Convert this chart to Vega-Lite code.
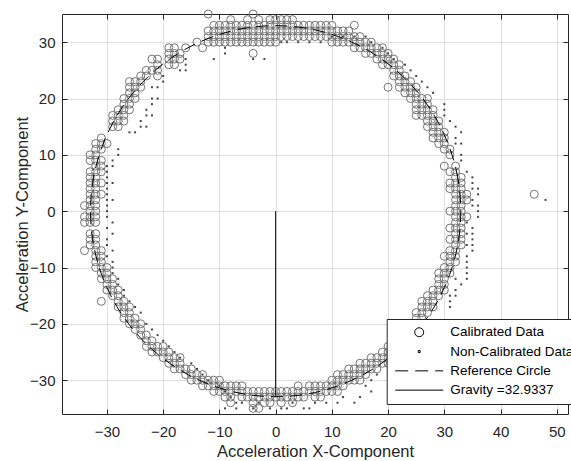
{
  "$schema": "https://vega.github.io/schema/vega-lite/v6.json",
  "width": 506,
  "height": 400,
  "autosize": {"type": "none"},
  "padding": {"left": 62, "top": 14, "right": 3, "bottom": 47},
  "background": "white",
  "config": {
    "font": "Liberation Sans",
    "view": {"stroke": null},
    "axis": {
      "labelFont": "Liberation Sans",
      "titleFont": "Liberation Sans",
      "labelFontSize": 15,
      "titleFontSize": 16.5,
      "titleFontWeight": "normal",
      "labelColor": "#262626",
      "titleColor": "#262626",
      "tickColor": "#262626",
      "gridColor": "#dfdfdf",
      "gridOpacity": 1,
      "domain": true,
      "domainColor": "#262626",
      "domainWidth": 1
    }
  },
  "datasets": {
    "calibrated": [
      {"x":21,"y":24},{"x":22,"y":24},{"x":23,"y":24},
      {"x":22,"y":23},{"x":23,"y":23},{"x":24,"y":23},
      {"x":22,"y":22},{"x":23,"y":22},{"x":24,"y":22},{"x":25,"y":22},{"x":20,"y":22},
      {"x":23,"y":21},{"x":24,"y":21},{"x":25,"y":21},
      {"x":24,"y":20},{"x":25,"y":20},{"x":26,"y":20},{"x":27,"y":20},
      {"x":25,"y":19},{"x":26,"y":19},{"x":27,"y":19},
      {"x":25,"y":18},{"x":26,"y":18},{"x":27,"y":18},{"x":28,"y":18},
      {"x":25,"y":17},{"x":26,"y":17},{"x":27,"y":17},{"x":28,"y":17},
      {"x":27,"y":16},{"x":28,"y":16},{"x":29,"y":16},
      {"x":27,"y":15},{"x":28,"y":15},{"x":29,"y":15},
      {"x":28,"y":14},{"x":29,"y":14},{"x":30,"y":14},
      {"x":28,"y":13},{"x":29,"y":13},{"x":30,"y":13},
      {"x":29,"y":12},{"x":30,"y":12},
      {"x":30,"y":11},{"x":31,"y":11},
      {"x":31,"y":10},
      {"x":30,"y":8},{"x":32,"y":8},
      {"x":31,"y":7},{"x":32,"y":7},
      {"x":32,"y":6},{"x":33,"y":6},
      {"x":31,"y":5},{"x":32,"y":5},{"x":33,"y":5},
      {"x":31,"y":4},{"x":32,"y":4},{"x":33,"y":4},
      {"x":32,"y":3},{"x":33,"y":3},{"x":34,"y":3},{"x":46,"y":3},
      {"x":32,"y":2},{"x":33,"y":2},{"x":34,"y":2},
      {"x":32,"y":1},{"x":33,"y":1},
      {"x":31,"y":0},{"x":32,"y":0},{"x":33,"y":0},
      {"x":32,"y":-1},{"x":33,"y":-1},{"x":34,"y":-1},
      {"x":32,"y":-2},{"x":33,"y":-2},
      {"x":31,"y":-3},{"x":32,"y":-3},{"x":33,"y":-3},
      {"x":32,"y":-4},{"x":33,"y":-4},
      {"x":31,"y":-5},{"x":32,"y":-5},{"x":33,"y":-5},
      {"x":32,"y":-6},{"x":33,"y":-6},
      {"x":31,"y":-7},{"x":32,"y":-7},
      {"x":30,"y":-8},{"x":31,"y":-8},{"x":32,"y":-8},
      {"x":31,"y":-9},{"x":32,"y":-9},
      {"x":30,"y":-10},{"x":31,"y":-10},
      {"x":29,"y":-11},{"x":30,"y":-11},{"x":31,"y":-11},
      {"x":29,"y":-12},{"x":30,"y":-12},
      {"x":29,"y":-13},{"x":30,"y":-13},
      {"x":28,"y":-14},{"x":29,"y":-14},{"x":30,"y":-14},
      {"x":27,"y":-15},{"x":28,"y":-15},{"x":29,"y":-15},
      {"x":26,"y":-16},{"x":27,"y":-16},{"x":28,"y":-16},
      {"x":26,"y":-17},{"x":27,"y":-17},{"x":28,"y":-17},
      {"x":25,"y":-18},{"x":26,"y":-18},{"x":27,"y":-18},
      {"x":25,"y":-19},{"x":26,"y":-19},
      {"x":24,"y":-20},{"x":25,"y":-20},{"x":26,"y":-20},
      {"x":21,"y":25},{"x":21,"y":26},{"x":21,"y":27},
      {"x":22,"y":25},{"x":22,"y":26},
      {"x":20,"y":26},{"x":20,"y":27},{"x":20,"y":28},
      {"x":19,"y":26},{"x":19,"y":27},{"x":19,"y":28},{"x":19,"y":29},
      {"x":18,"y":27},{"x":18,"y":28},{"x":18,"y":29},
      {"x":17,"y":28},{"x":17,"y":29},{"x":17,"y":30},
      {"x":16,"y":28},{"x":16,"y":29},{"x":16,"y":30},
      {"x":15,"y":29},{"x":15,"y":30},{"x":15,"y":31},
      {"x":14,"y":29},{"x":14,"y":30},{"x":14,"y":31},{"x":14,"y":33},
      {"x":13,"y":30},{"x":13,"y":31},{"x":13,"y":32},
      {"x":12,"y":30},{"x":12,"y":31},{"x":12,"y":32},
      {"x":11,"y":30},{"x":11,"y":31},{"x":11,"y":32},
      {"x":10,"y":30},{"x":10,"y":31},{"x":10,"y":32},{"x":10,"y":33},
      {"x":9,"y":31},{"x":9,"y":32},{"x":9,"y":33},
      {"x":8,"y":31},{"x":8,"y":32},{"x":8,"y":33},
      {"x":7,"y":31},{"x":7,"y":32},{"x":7,"y":33},
      {"x":6,"y":31},{"x":6,"y":32},{"x":6,"y":33},
      {"x":5,"y":31},{"x":5,"y":32},{"x":5,"y":33},
      {"x":4,"y":31},{"x":4,"y":32},{"x":4,"y":33},
      {"x":3,"y":31},{"x":3,"y":32},{"x":3,"y":33},{"x":3,"y":34},
      {"x":2,"y":31},{"x":2,"y":32},{"x":2,"y":33},{"x":2,"y":34},
      {"x":1,"y":31},{"x":1,"y":32},{"x":1,"y":33},{"x":1,"y":34},
      {"x":0,"y":30},{"x":0,"y":31},{"x":0,"y":32},{"x":0,"y":33},{"x":0,"y":34},
      {"x":-1,"y":30},{"x":-1,"y":31},{"x":-1,"y":32},{"x":-1,"y":33},{"x":-1,"y":34},
      {"x":-2,"y":30},{"x":-2,"y":31},{"x":-2,"y":32},{"x":-2,"y":33},
      {"x":-3,"y":30},{"x":-3,"y":31},{"x":-3,"y":32},{"x":-3,"y":33},{"x":-3,"y":34},
      {"x":-4,"y":28},{"x":-4,"y":30},{"x":-4,"y":31},{"x":-4,"y":32},{"x":-4,"y":33},{"x":-4,"y":35},
      {"x":-5,"y":30},{"x":-5,"y":31},{"x":-5,"y":32},{"x":-5,"y":33},{"x":-5,"y":34},
      {"x":-6,"y":30},{"x":-6,"y":31},{"x":-6,"y":32},{"x":-6,"y":33},
      {"x":-7,"y":30},{"x":-7,"y":31},{"x":-7,"y":32},{"x":-7,"y":33},
      {"x":-8,"y":30},{"x":-8,"y":31},{"x":-8,"y":32},{"x":-8,"y":33},{"x":-8,"y":34},
      {"x":-9,"y":30},{"x":-9,"y":31},{"x":-9,"y":32},{"x":-9,"y":33},
      {"x":-10,"y":30},{"x":-10,"y":31},{"x":-10,"y":32},{"x":-10,"y":33},
      {"x":-11,"y":30},{"x":-11,"y":31},{"x":-11,"y":32},{"x":-11,"y":33},
      {"x":-12,"y":30},{"x":-12,"y":31},{"x":-12,"y":32},{"x":-12,"y":35},
      {"x":-13,"y":29},{"x":-14,"y":30},{"x":-16,"y":29},
      {"x":-17,"y":27},{"x":-17,"y":28},
      {"x":-18,"y":26},{"x":-18,"y":27},{"x":-18,"y":28},{"x":-18,"y":29},
      {"x":-19,"y":26},{"x":-19,"y":27},{"x":-19,"y":28},{"x":-19,"y":29},
      {"x":-21,"y":24},{"x":-21,"y":25},{"x":-21,"y":26},{"x":-21,"y":27},
      {"x":-22,"y":25},{"x":-22,"y":27},
      {"x":-23,"y":24},{"x":-23,"y":25},
      {"x":-24,"y":22},{"x":-24,"y":23},{"x":-24,"y":24},
      {"x":-25,"y":20},{"x":-25,"y":21},{"x":-25,"y":22},{"x":-25,"y":23},
      {"x":-26,"y":18},{"x":-26,"y":19},{"x":-26,"y":20},{"x":-26,"y":21},{"x":-26,"y":22},{"x":-26,"y":23},
      {"x":-27,"y":16},{"x":-27,"y":17},{"x":-27,"y":18},{"x":-27,"y":19},{"x":-27,"y":20},
      {"x":-28,"y":15},{"x":-28,"y":16},{"x":-28,"y":17},{"x":-28,"y":18},
      {"x":-29,"y":15},{"x":-29,"y":16},{"x":-29,"y":17},
      {"x":-31,"y":13},
      {"x":-32,"y":12},{"x":-31,"y":12},{"x":-30,"y":12},
      {"x":-32,"y":11},{"x":-31,"y":11},
      {"x":-33,"y":10},{"x":-32,"y":10},
      {"x":-33,"y":9},{"x":-32,"y":9},{"x":-31,"y":9},
      {"x":-32,"y":8},{"x":-31,"y":8},
      {"x":-33,"y":7},{"x":-32,"y":7},{"x":-31,"y":7},
      {"x":-33,"y":6},{"x":-32,"y":6},
      {"x":-33,"y":5},{"x":-32,"y":5},{"x":-31,"y":5},
      {"x":-33,"y":4},{"x":-32,"y":4},
      {"x":-33,"y":3},{"x":-32,"y":3},{"x":-31,"y":3},
      {"x":-33,"y":2},{"x":-32,"y":2},
      {"x":-34,"y":1},{"x":-33,"y":1},{"x":-32,"y":1},
      {"x":-33,"y":0},{"x":-32,"y":0},
      {"x":-34,"y":-1},{"x":-33,"y":-1},{"x":-32,"y":-1},
      {"x":-34,"y":-2},{"x":-33,"y":-2},{"x":-32,"y":-2},
      {"x":-33,"y":-4},{"x":-32,"y":-4},
      {"x":-33,"y":-5},{"x":-32,"y":-5},
      {"x":-33,"y":-6},{"x":-32,"y":-6},
      {"x":-34,"y":-7},{"x":-32,"y":-7},{"x":-31,"y":-7},
      {"x":-32,"y":-8},{"x":-31,"y":-8},
      {"x":-32,"y":-9},{"x":-31,"y":-9},
      {"x":-32,"y":-10},{"x":-31,"y":-10},{"x":-30,"y":-10},
      {"x":-31,"y":-11},{"x":-30,"y":-11},
      {"x":-31,"y":-12},{"x":-30,"y":-12},{"x":-29,"y":-12},
      {"x":-30,"y":-13},{"x":-29,"y":-13},
      {"x":-30,"y":-14},{"x":-29,"y":-14},{"x":-28,"y":-14},
      {"x":-29,"y":-15},{"x":-28,"y":-15},
      {"x":-31,"y":-16},{"x":-28,"y":-16},{"x":-27,"y":-16},
      {"x":-28,"y":-17},{"x":-27,"y":-17},{"x":-26,"y":-17},
      {"x":-27,"y":-18},{"x":-26,"y":-18},
      {"x":-27,"y":-19},{"x":-26,"y":-19},{"x":-25,"y":-19},
      {"x":-26,"y":-20},{"x":-25,"y":-20},{"x":-24,"y":-20},
      {"x":-25,"y":-21},{"x":-24,"y":-21},
      {"x":-24,"y":-22},{"x":-23,"y":-22},
      {"x":-23,"y":-23},{"x":-23,"y":-24},
      {"x":-22,"y":-23},{"x":-22,"y":-24},{"x":-22,"y":-25},
      {"x":-21,"y":-24},{"x":-21,"y":-25},
      {"x":-20,"y":-24},{"x":-20,"y":-25},{"x":-20,"y":-26},
      {"x":-19,"y":-25},{"x":-19,"y":-26},{"x":-19,"y":-27},
      {"x":-18,"y":-26},{"x":-18,"y":-27},{"x":-18,"y":-28},
      {"x":-17,"y":-26},{"x":-17,"y":-27},{"x":-17,"y":-28},
      {"x":-16,"y":-28},{"x":-16,"y":-29},
      {"x":-15,"y":-28},{"x":-15,"y":-29},{"x":-15,"y":-30},
      {"x":-14,"y":-29},{"x":-14,"y":-30},
      {"x":-13,"y":-29},{"x":-13,"y":-30},{"x":-13,"y":-31},
      {"x":-12,"y":-30},{"x":-12,"y":-31},
      {"x":-11,"y":-30},{"x":-11,"y":-31},{"x":-11,"y":-32},
      {"x":-10,"y":-30},{"x":-10,"y":-31},{"x":-10,"y":-32},
      {"x":-9,"y":-31},{"x":-9,"y":-32},{"x":-9,"y":-33},
      {"x":-8,"y":-31},{"x":-8,"y":-32},{"x":-8,"y":-33},{"x":-8,"y":-34},
      {"x":-7,"y":-31},{"x":-7,"y":-32},
      {"x":-6,"y":-31},{"x":-6,"y":-32},{"x":-6,"y":-33},
      {"x":-5,"y":-32},{"x":-5,"y":-33},
      {"x":-4,"y":-32},{"x":-4,"y":-33},{"x":-4,"y":-34},{"x":-4,"y":-35},
      {"x":-3,"y":-32},{"x":-3,"y":-33},{"x":-3,"y":-35},
      {"x":-2,"y":-32},{"x":-2,"y":-33},{"x":-2,"y":-34},
      {"x":-1,"y":-32},{"x":-1,"y":-33},{"x":-1,"y":-34},
      {"x":0,"y":-32},{"x":0,"y":-33},
      {"x":1,"y":-32},{"x":1,"y":-33},{"x":1,"y":-34},
      {"x":2,"y":-32},{"x":2,"y":-33},
      {"x":3,"y":-32},{"x":3,"y":-33},{"x":3,"y":-34},
      {"x":4,"y":-31},{"x":4,"y":-32},{"x":4,"y":-33},
      {"x":5,"y":-32},{"x":5,"y":-33},
      {"x":6,"y":-31},{"x":6,"y":-32},
      {"x":7,"y":-31},{"x":7,"y":-32},{"x":7,"y":-33},
      {"x":8,"y":-31},{"x":8,"y":-32},{"x":8,"y":-33},
      {"x":9,"y":-31},{"x":9,"y":-32},
      {"x":10,"y":-30},{"x":10,"y":-31},{"x":10,"y":-32},
      {"x":11,"y":-29},{"x":11,"y":-30},{"x":11,"y":-31},{"x":11,"y":-32},
      {"x":12,"y":-29},{"x":12,"y":-30},{"x":12,"y":-31},
      {"x":13,"y":-28},{"x":13,"y":-29},{"x":13,"y":-30},
      {"x":14,"y":-28},{"x":14,"y":-29},{"x":14,"y":-30},
      {"x":15,"y":-27},{"x":15,"y":-28},{"x":15,"y":-29},{"x":15,"y":-30},
      {"x":16,"y":-27},{"x":16,"y":-28},{"x":16,"y":-29},
      {"x":17,"y":-26},{"x":17,"y":-27},{"x":17,"y":-28},
      {"x":18,"y":-26},{"x":18,"y":-27},{"x":18,"y":-28},
      {"x":19,"y":-25},{"x":19,"y":-26},{"x":19,"y":-27},
      {"x":20,"y":-24},{"x":20,"y":-25},{"x":20,"y":-26},{"x":20,"y":-27},
      {"x":21,"y":-24},{"x":21,"y":-25},{"x":21,"y":-26},
      {"x":22,"y":-23},{"x":22,"y":-24},{"x":22,"y":-25},
      {"x":23,"y":-22},{"x":23,"y":-23},{"x":23,"y":-24}
    ],
    "raw": [
      {"x":1,"y":30},{"x":-2,"y":27},{"x":-4,"y":27},{"x":-9,"y":28},{"x":-9,"y":29},{"x":-11,"y":27},
      {"x":-16,"y":27},{"x":-16,"y":26},{"x":-16,"y":25},{"x":-17,"y":25},{"x":-20,"y":24},{"x":-20,"y":23},
      {"x":-21,"y":22},{"x":-22,"y":22},{"x":-22,"y":20},{"x":-21,"y":20},{"x":-22,"y":19},{"x":-23,"y":18},
      {"x":-23,"y":17},{"x":-22,"y":17},{"x":-24,"y":16},{"x":-24,"y":15},{"x":-23,"y":15},{"x":-25,"y":14},
      {"x":-26,"y":14},{"x":-28,"y":11},{"x":-28,"y":10},{"x":-29,"y":9},{"x":-30,"y":8},{"x":-29,"y":8},
      {"x":-30,"y":7},{"x":-30,"y":6},{"x":-29,"y":5},{"x":-30,"y":5},{"x":-30,"y":4},{"x":-30,"y":3},
      {"x":-29,"y":2},{"x":-30,"y":2},{"x":-30,"y":1},{"x":-30,"y":0},{"x":-30,"y":-1},{"x":-29,"y":-2},
      {"x":-30,"y":-3},{"x":-29,"y":-4},{"x":-30,"y":-5},{"x":-30,"y":-6},{"x":-29,"y":-7},{"x":-30,"y":-8},
      {"x":-29,"y":-9},{"x":-29,"y":-10},{"x":-29,"y":-11},{"x":-28,"y":-12},{"x":-28,"y":-13},{"x":-27,"y":-14},
      {"x":-27,"y":-15},{"x":-26,"y":-16},{"x":-25,"y":-17},{"x":-24,"y":-18},{"x":-23,"y":-20},{"x":-22,"y":-21},
      {"x":-21,"y":-22},{"x":-20,"y":-23},{"x":-19,"y":-24},{"x":-18,"y":-25},{"x":-17,"y":-26},{"x":-15,"y":-27},
      {"x":-14,"y":-28},{"x":-13,"y":-29},{"x":-12,"y":-30},{"x":-10,"y":-31},{"x":-9,"y":-32},{"x":-8,"y":-33},
      {"x":-7,"y":-34},{"x":-7,"y":-35},{"x":-9,"y":-35},{"x":-6,"y":-34},{"x":-4,"y":-35},{"x":-3,"y":-34},
      {"x":-1,"y":-35},{"x":1,"y":-35},{"x":2,"y":-35},{"x":3,"y":-34},{"x":5,"y":-35},{"x":6,"y":-35},
      {"x":7,"y":-34},{"x":9,"y":-34},{"x":11,"y":-34},{"x":12,"y":-33},{"x":14,"y":-34},{"x":15,"y":-33},
      {"x":16,"y":-31},{"x":17,"y":-30},{"x":17,"y":-32},{"x":18,"y":-29},{"x":20,"y":-28},{"x":21,"y":-27},
      {"x":22,"y":-26},{"x":31,"y":-17},{"x":31,"y":-16},{"x":32,"y":-15},{"x":31,"y":-15},{"x":32,"y":-14},
      {"x":33,"y":-13},{"x":32,"y":-12},{"x":34,"y":-12},{"x":34,"y":-11},{"x":34,"y":-10},{"x":34,"y":-9},
      {"x":34,"y":-8},{"x":35,"y":-7},{"x":34,"y":-6},{"x":35,"y":-6},{"x":35,"y":-5},{"x":34,"y":-4},
      {"x":35,"y":-4},{"x":35,"y":-3},{"x":34,"y":-2},{"x":36,"y":-1},{"x":36,"y":0},{"x":35,"y":1},
      {"x":36,"y":1},{"x":35,"y":2},{"x":36,"y":3},{"x":35,"y":4},{"x":36,"y":4},{"x":35,"y":5},
      {"x":35,"y":6},{"x":34,"y":7},{"x":33,"y":9},{"x":33,"y":10},{"x":32,"y":12},{"x":33,"y":12},
      {"x":32,"y":13},{"x":33,"y":14},{"x":32,"y":15},{"x":31,"y":16},{"x":30,"y":17},{"x":30,"y":18},
      {"x":30,"y":19},{"x":28,"y":21},{"x":27,"y":22},{"x":26,"y":23},{"x":25,"y":24},{"x":24,"y":25},
      {"x":23,"y":26},{"x":21,"y":27},{"x":20,"y":28},{"x":19,"y":29},{"x":17,"y":30},{"x":16,"y":31},
      {"x":14,"y":31},{"x":12,"y":31},{"x":10,"y":31},{"x":8,"y":30},{"x":6,"y":30},{"x":4,"y":30},
      {"x":2,"y":30},{"x":48,"y":2}
    ],
    "reference": [
      {"i":0,"x":32.9337,"y":0},{"i":1,"x":32.4334,"y":5.7189},{"i":2,"x":30.9475,"y":11.264},
      {"i":3,"x":28.5216,"y":16.4669},{"i":4,"x":25.2285,"y":21.1695},{"i":5,"x":21.1695,"y":25.2285},
      {"i":6,"x":16.4669,"y":28.5216},{"i":7,"x":11.264,"y":30.9475},{"i":8,"x":5.7189,"y":32.4334},
      {"i":9,"x":0,"y":32.9337},{"i":10,"x":-5.7189,"y":32.4334},{"i":11,"x":-11.264,"y":30.9475},
      {"i":12,"x":-16.4669,"y":28.5216},{"i":13,"x":-21.1695,"y":25.2285},{"i":14,"x":-25.2285,"y":21.1695},
      {"i":15,"x":-28.5216,"y":16.4669},{"i":16,"x":-30.9475,"y":11.264},{"i":17,"x":-32.4334,"y":5.7189},
      {"i":18,"x":-32.9337,"y":0},{"i":19,"x":-32.4334,"y":-5.7189},{"i":20,"x":-30.9475,"y":-11.264},
      {"i":21,"x":-28.5216,"y":-16.4669},{"i":22,"x":-25.2285,"y":-21.1695},{"i":23,"x":-21.1695,"y":-25.2285},
      {"i":24,"x":-16.4669,"y":-28.5216},{"i":25,"x":-11.264,"y":-30.9475},{"i":26,"x":-5.7189,"y":-32.4334},
      {"i":27,"x":0,"y":-32.9337},{"i":28,"x":5.7189,"y":-32.4334},{"i":29,"x":11.264,"y":-30.9475},
      {"i":30,"x":16.4669,"y":-28.5216},{"i":31,"x":21.1695,"y":-25.2285},{"i":32,"x":25.2285,"y":-21.1695},
      {"i":33,"x":28.5216,"y":-16.4669},{"i":34,"x":30.9475,"y":-11.264},{"i":35,"x":32.4334,"y":-5.7189}
    ],
    "gravity": [{"x":0,"y":0},{"x":0,"y":-32.9337}],
    "keys": [
      {"series":"Calibrated Data"},
      {"series":"Non-Calibrated Data"},
      {"series":"Reference Circle"},
      {"series":"Gravity =32.9337"}
    ]
  },
  "layer": [
    {
      "data": {"name": "calibrated"},
      "mark": {"type": "point", "shape": "circle", "filled": false, "size": 64, "stroke": "#737373", "strokeWidth": 1, "opacity": 1},
      "encoding": {
        "x": {"field": "x", "type": "quantitative",
          "scale": {"domain": [-38, 52], "nice": false, "zero": false},
          "axis": {"orient": "bottom", "title": "Acceleration X-Component", "values": [-30,-20,-10,0,10,20,30,40,50],
            "grid": true, "tickSize": -5, "labelPadding": 15, "titlePadding": 4}},
        "y": {"field": "y", "type": "quantitative",
          "scale": {"domain": [-36, 35], "nice": false, "zero": false},
          "axis": {"orient": "left", "title": "Acceleration Y-Component", "values": [-30,-20,-10,0,10,20,30],
            "grid": true, "tickSize": -5, "labelPadding": 12, "titlePadding": -1}}
      }
    },
    {
      "data": {"name": "raw"},
      "mark": {"type": "point", "shape": "square", "filled": true, "size": 4, "color": "#444444", "opacity": 1},
      "encoding": {
        "x": {"field": "x", "type": "quantitative",
          "axis": {"orient": "top", "title": null, "labels": false, "grid": false, "values": [-30,-20,-10,0,10,20,30,40,50], "tickSize": -5}},
        "y": {"field": "y", "type": "quantitative",
          "axis": {"orient": "right", "title": null, "labels": false, "grid": false, "values": [-30,-20,-10,0,10,20,30], "tickSize": -5}}
      }
    },
    {
      "data": {"name": "reference"},
      "mark": {"type": "line", "color": "#000000", "strokeWidth": 1, "strokeDash": [12, 7], "interpolate": "cardinal-closed"},
      "encoding": {
        "x": {"field": "x", "type": "quantitative", "axis": null},
        "y": {"field": "y", "type": "quantitative", "axis": null},
        "order": {"field": "i", "type": "quantitative"}
      }
    },
    {
      "data": {"name": "gravity"},
      "mark": {"type": "line", "color": "#000000", "strokeWidth": 1},
      "encoding": {
        "x": {"field": "x", "type": "quantitative", "axis": null},
        "y": {"field": "y", "type": "quantitative", "axis": null}
      }
    },
    {
      "data": {"name": "keys"},
      "mark": {"type": "point", "opacity": 0, "color": "#000000"},
      "encoding": {
        "shape": {
          "field": "series", "type": "nominal",
          "scale": {
            "domain": ["Calibrated Data", "Non-Calibrated Data", "Reference Circle", "Gravity =32.9337"],
            "range": [
              "M0.9,0A0.9,0.9,0,1,1,-0.9,0A0.9,0.9,0,1,1,0.9,0Z",
              "M-0.2,-0.2H0.2V0.2H-0.2Z",
              "M-4.8,0H-2.2M-0.8,0H1.8M3.2,0H4.8",
              "M-4.8,0H4.8"
            ]
          },
          "legend": {
            "title": null,
            "orient": "none",
            "legendX": 324.7,
            "legendY": 305,
            "padding": 6.5,
            "fillColor": "#ffffff",
            "strokeColor": "#262626",
            "symbolSize": 100,
            "symbolOffset": 19.25,
            "symbolStrokeWidth": 1,
            "symbolOpacity": 1,
            "labelOffset": 24.3,
            "labelFont": "Liberation Sans",
            "labelFontSize": 13.5,
            "labelColor": "#000000",
            "labelLimit": 300,
            "rowPadding": 4.3,
            "encode": {
              "symbols": {
                "fill": {"condition": {"test": "datum.value === 'Non-Calibrated Data'", "value": "#444444"}, "value": "transparent"},
                "stroke": {"condition": [
                  {"test": "datum.value === 'Calibrated Data'", "value": "#737373"},
                  {"test": "datum.value === 'Non-Calibrated Data'", "value": "transparent"}
                ], "value": "#000000"},
                "strokeWidth": {"value": 1},
                "opacity": {"value": 1}
              }
            }
          }
        }
      }
    }
  ],
  "resolve": {"axis": {"x": "independent", "y": "independent"}}
}
